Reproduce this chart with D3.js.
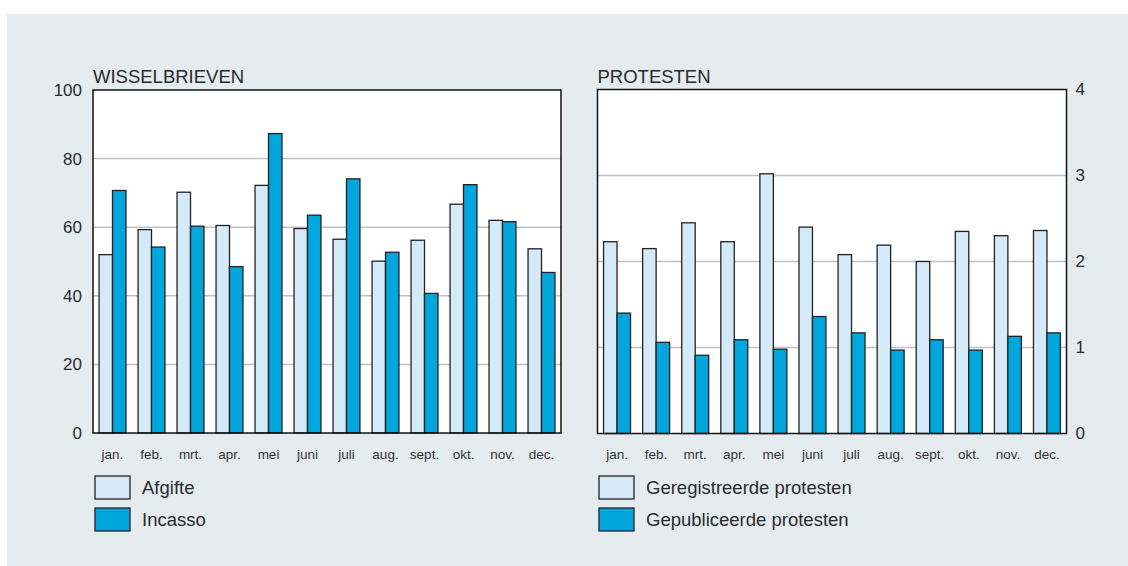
<!DOCTYPE html>
<html><head><meta charset="utf-8">
<script src="https://cdn.jsdelivr.net/npm/d3@7"></script>
<style>body{margin:0;background:#fff;font-family:"Liberation Sans",Arial,sans-serif;}</style>
</head><body>
<svg id="c" width="1128" height="566"></svg>
<script>
const months = ["jan.","feb.","mrt.","apr.","mei","juni","juli","aug.","sept.","okt.","nov.","dec."];
const afgifte = [52,59.3,70.2,60.5,72.2,59.6,56.5,50.1,56.2,66.7,62.0,53.7];
const incasso = [70.7,54.2,60.3,48.5,87.3,63.5,74.1,52.7,40.7,72.4,61.6,46.8];
const geregistreerd = [2.23,2.15,2.45,2.23,3.02,2.40,2.08,2.19,2.00,2.35,2.30,2.36];
const gepubliceerd = [1.40,1.06,0.91,1.09,0.98,1.36,1.17,0.97,1.09,0.97,1.13,1.17];
const leftTicks = [0,20,40,60,80,100];
const rightTicks = [0,1,2,3,4];

const LIGHT = "#d5eaf8", DARK = "#00a6dc", STROKE = "#222", GRID = "#c0c0c0", TXT = "#2a2a2a";
const FONT = "Liberation Sans, Arial, sans-serif";
const svg = d3.select("#c");
svg.append("rect").attr("x",7).attr("y",14).attr("width",1121).attr("height",552).attr("fill","#e4ecf0");

function panel(o){
  const g = svg.append("g").attr("font-family",FONT);
  const x = d3.scaleBand().domain(months).range([o.x0,o.x1]).paddingInner(0.31).paddingOuter(0.155);
  const xs = d3.scaleBand().domain([0,1]).range([0,x.bandwidth()]);
  const y = d3.scaleLinear().domain(o.domain).range([o.yb,o.yt]);
  g.append("rect").attr("x",o.x0).attr("y",o.yt).attr("width",o.x1-o.x0).attr("height",o.yb-o.yt).attr("fill","#fff");
  g.append("g").selectAll("line").data(o.ticks.slice(1,-1)).join("line")
    .attr("x1",o.x0).attr("x2",o.x1).attr("y1",d=>y(d)).attr("y2",d=>y(d))
    .attr("stroke",GRID).attr("stroke-width",1.5);
  [o.s1,o.s2].forEach((s,si)=>{
    g.append("g").selectAll("rect").data(s).join("rect")
      .attr("x",(d,i)=>x(months[i])+xs(si)).attr("width",xs.bandwidth())
      .attr("y",d=>y(d)).attr("height",d=>y(0)-y(d))
      .attr("fill",si?DARK:LIGHT).attr("stroke",STROKE).attr("stroke-width",1.3);
  });
  g.append("rect").attr("x",o.x0).attr("y",o.yt).attr("width",o.x1-o.x0).attr("height",o.yb-o.yt)
    .attr("fill","none").attr("stroke","#111").attr("stroke-width",1.5);
  const ax = o.right ? d3.axisRight(y) : d3.axisLeft(y);
  const ag = g.append("g").attr("transform",`translate(${o.right?o.x1:o.x0},0)`)
    .call(ax.tickValues(o.ticks).tickSize(0).tickPadding(o.right?9:11).tickFormat(d3.format("d")));
  ag.select(".domain").remove();
  ag.selectAll("text").attr("font-size",17).attr("fill",TXT).attr("font-family",FONT);
  const xg = g.append("g").attr("transform",`translate(0,${o.yb})`).call(d3.axisBottom(x).tickSize(0).tickPadding(16));
  xg.select(".domain").remove();
  xg.selectAll("text").attr("font-size",13.5).attr("fill","#333").attr("font-family",FONT);
  g.append("text").attr("x",o.x0).attr("y",o.yt-7).text(o.title).attr("font-size",18.5).attr("fill",TXT);
  o.legend.forEach((t,i)=>{
    g.append("rect").attr("x",o.lx).attr("y",476+i*32).attr("width",35).attr("height",23)
      .attr("fill",i?DARK:LIGHT).attr("stroke",STROKE).attr("stroke-width",1.3);
    g.append("text").attr("x",o.lx+47).attr("y",488+i*32).attr("dy","0.35em").text(t).attr("font-size",18.5).attr("fill",TXT);
  });
}
panel({x0:93,x1:561,yt:90,yb:433,domain:[0,100],ticks:leftTicks,s1:afgifte,s2:incasso,title:"WISSELBRIEVEN",right:false,lx:95,legend:["Afgifte","Incasso"]});
panel({x0:597.5,x1:1066.5,yt:89.5,yb:433.5,domain:[0,4],ticks:rightTicks,s1:geregistreerd,s2:gepubliceerd,title:"PROTESTEN",right:true,lx:599,legend:["Geregistreerde protesten","Gepubliceerde protesten"]});
</script>
</body></html>
